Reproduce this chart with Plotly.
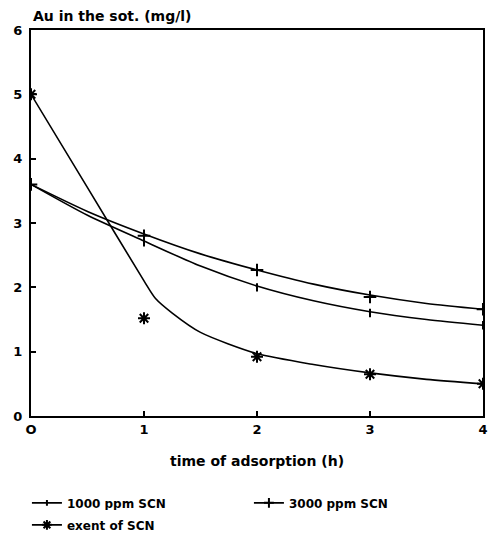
import plotly.graph_objects as go

# Measured points
t_hours = [0, 1, 2, 3, 4]
scn_1000 = [3.6, 2.7, 2.0, 1.6, 1.41]
scn_3000 = [3.6, 2.8, 2.27, 1.85, 1.66]
scn_exent = [5.0, 1.52, 0.92, 0.65, 0.5]

# Fitted curves (sampled)
fit_t = [0, 0.5, 1.0, 1.5, 2.0, 2.5, 3.0, 3.5, 4.0]
fit_1000 = [3.6, 3.12, 2.72, 2.33, 2.02, 1.79, 1.62, 1.5, 1.41]
fit_3000 = [3.6, 3.18, 2.83, 2.52, 2.27, 2.05, 1.88, 1.75, 1.66]
fit_exent_t = [0, 0.5, 1.0, 1.1, 1.25, 1.5, 2.0, 2.5, 3.0, 3.5, 4.0]
fit_exent = [5.0, 3.55, 2.1, 1.83, 1.6, 1.3, 0.97, 0.8, 0.67, 0.57, 0.5]

series_names = ["1000 ppm SCN", "3000 ppm SCN", "exent of SCN"]
y_ticks = [0, 1, 2, 3, 4, 5, 6]
x_ticks = [0, 1, 2, 3, 4]
x_ticktext = ["O", "1", "2", "3", "4"]

FONT = "DejaVu Sans, Arial, sans-serif"
INK = "#000000"

fig = go.Figure()

series = [
    (fit_t, fit_1000, scn_1000, "line-ns", 6, series_names[0], "legend"),
    (fit_t, fit_3000, scn_3000, "cross-thin", 9, series_names[1], "legend"),
    (fit_exent_t, fit_exent, scn_exent, "asterisk", 10, series_names[2], "legend2"),
]

for ft, fy, py, sym, sz, name, leg in series:
    fig.add_trace(go.Scatter(
        x=ft, y=fy, mode="lines", line=dict(color=INK, width=1.6, shape="spline", smoothing=0.7),
        showlegend=False, hoverinfo="skip"))
    fig.add_trace(go.Scatter(
        x=t_hours, y=py, mode="markers",
        marker=dict(symbol=sym, size=sz, color=INK, line=dict(color=INK, width=2)),
        showlegend=False, name=name))
    # legend entry: line with marker
    fig.add_trace(go.Scatter(
        x=[None], y=[None], mode="lines+markers", name=name, legend=leg,
        line=dict(color=INK, width=1.6),
        marker=dict(symbol=sym, size=sz - 2, color=INK, line=dict(color=INK, width=2))))

legend_font = dict(family=FONT, size=12, color=INK, weight="bold")

fig.update_layout(
    width=489, height=542,
    margin=dict(l=31, r=6, t=30, b=126, autoexpand=False),
    paper_bgcolor="white", plot_bgcolor="white",
    font=dict(family=FONT, size=12, color=INK),
    showlegend=True,
    legend=dict(
        orientation="h", x=-0.009, y=-0.225, xanchor="left", yanchor="middle",
        entrywidth=177, entrywidthmode="pixels",
        font=legend_font, itemwidth=30,
    ),
    legend2=dict(
        orientation="h", x=-0.009, y=-0.282, xanchor="left", yanchor="middle",
        font=legend_font, itemwidth=30,
    ),
    annotations=[dict(
        text="<b>Au in the sot. (mg/l)</b>", x=0, y=1.01, xref="paper", yref="paper",
        xanchor="left", yanchor="bottom", showarrow=False,
        font=dict(family=FONT, size=14, color=INK))],
)

fig.update_xaxes(
    range=[0, 4], tickvals=x_ticks, ticktext=x_ticktext,
    showgrid=False, zeroline=False,
    showline=True, linecolor=INK, linewidth=2, mirror=True,
    ticks="inside", ticklen=5, tickwidth=1.5, tickcolor=INK,
    tickfont=dict(family=FONT, size=13, color=INK, weight="bold"),
    title=dict(text="<b>time of adsorption (h)</b>", standoff=21,
               font=dict(family=FONT, size=14, color=INK)),
)
fig.update_yaxes(
    range=[0, 6], tickvals=y_ticks,
    showgrid=False, zeroline=False,
    showline=True, linecolor=INK, linewidth=2, mirror=True,
    ticks="inside", ticklen=5, tickwidth=1.5, tickcolor=INK,
    tickfont=dict(family=FONT, size=13, color=INK, weight="bold"),
    ticklabelstandoff=4,
)

fig.write_html("out.html")
